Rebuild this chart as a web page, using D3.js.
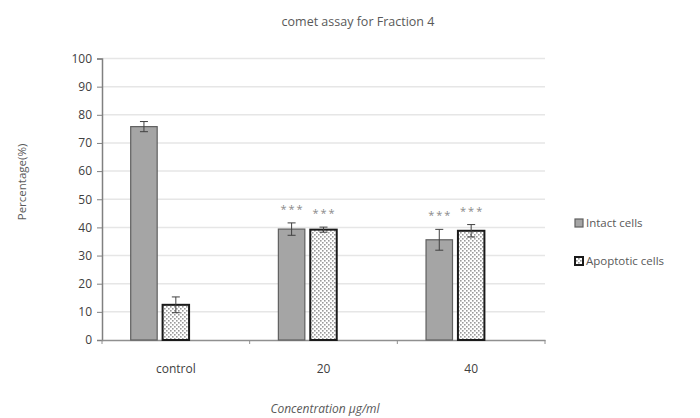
<!DOCTYPE html>
<html><head><meta charset="utf-8">
<script src="https://cdn.jsdelivr.net/npm/d3@7"></script>
<style>body{margin:0;background:#fff}svg{display:block}text{font-family:"Open Sans","Liberation Sans",sans-serif}</style>
</head><body><svg id="c" width="700" height="418"></svg>
<script>
const categories = ["control", "20", "40"];
const seriesNames = ["Intact cells", "Apoptotic cells"];
const intactValues = [75.8, 39.4, 35.6];
const intactErrors = [1.8, 2.2, 3.7];
const apoptoticValues = [12.5, 39.2, 38.8];
const apoptoticErrors = [2.8, 0.9, 2.2];
const intactMarks = ["", "***", "***"];
const apoptoticMarks = ["", "***", "***"];
const yTicks = [0,10,20,30,40,50,60,70,80,90,100];

const svg = d3.select("#c");
const m = {l:102, r:545, t:58.5, b:340};
const x = d3.scaleBand().domain(categories).range([m.l, m.r]);
const xs = d3.scaleBand().domain([...seriesNames, "_empty"]).range([0, x.bandwidth()]).paddingInner(0.17).paddingOuter(0.9);
const y = d3.scaleLinear().domain([0,100]).range([m.b, m.t]);

const defs = svg.append("defs");
const pat = defs.append("pattern").attr("id","dots").attr("patternUnits","userSpaceOnUse").attr("width",4).attr("height",4);
pat.append("rect").attr("width",4).attr("height",4).attr("fill","#fff");
pat.append("rect").attr("x",0).attr("y",0).attr("width",1.6).attr("height",1.6).attr("fill","#9a9a9a");
pat.append("rect").attr("x",2).attr("y",2).attr("width",1.6).attr("height",1.6).attr("fill","#9a9a9a");

// gridlines
svg.append("g").selectAll("line").data(yTicks.filter(d=>d>0)).join("line")
  .attr("x1",m.l).attr("x2",m.r).attr("y1",d=>y(d)).attr("y2",d=>y(d))
  .attr("stroke","#e6e6e6").attr("stroke-width",1.5);

// y axis
const ya = svg.append("g").attr("transform",`translate(${m.l},0)`)
  .call(d3.axisLeft(y).tickValues(yTicks).tickSize(5).tickPadding(5));
ya.selectAll("text").attr("fill","#404040").style("font-size","12px");
ya.selectAll("line").attr("stroke","#808080");
ya.select(".domain").attr("stroke","#808080").attr("stroke-width",1.5);

// x axis
const xa = svg.append("g").attr("transform",`translate(0,${m.b})`)
  .call(d3.axisBottom(x).tickSize(0).tickPadding(24));
xa.select(".domain").attr("stroke","#909090").attr("stroke-width",1.5);
xa.selectAll("text").attr("fill","#404040").style("font-size","12px");
svg.append("g").selectAll("line").data([m.l, ...categories.map(c=>x(c)+x.bandwidth())]).join("line")
  .attr("x1",d=>d).attr("x2",d=>d).attr("y1",m.b).attr("y2",m.b+4).attr("stroke","#909090");

const series = [
  {name: seriesNames[0], vals: intactValues, errs: intactErrors, marks: intactMarks, fill:"#a5a5a5", stroke:"#5f5f5f", sw:1.2},
  {name: seriesNames[1], vals: apoptoticValues, errs: apoptoticErrors, marks: apoptoticMarks, fill:"url(#dots)", stroke:"#1a1a1a", sw:2}
];
series.forEach(s=>{
  const g = svg.append("g");
  categories.forEach((c,i)=>{
    const bx = x(c)+xs(s.name), bw = xs.bandwidth(), v = s.vals[i], e = s.errs[i];
    g.append("rect").attr("x",bx).attr("y",y(v)).attr("width",bw).attr("height",y(0)-y(v))
      .attr("fill",s.fill).attr("stroke",s.stroke).attr("stroke-width",s.sw);
    const cx = bx+bw/2;
    g.append("line").attr("x1",cx).attr("x2",cx).attr("y1",y(v+e)).attr("y2",y(v-e)).attr("stroke","#404040");
    [v+e, v-e].forEach(t=>g.append("line").attr("x1",cx-4).attr("x2",cx+4).attr("y1",y(t)).attr("y2",y(t)).attr("stroke","#404040"));
    if (s.marks[i]) g.append("text").attr("x",cx+1).attr("y",y(v+e)-10).attr("text-anchor","middle")
      .attr("fill","#8a8a8a").style("font-size","11px").style("letter-spacing","2px").text(s.marks[i]);
  });
});

// title & axis titles
svg.append("text").attr("x",358).attr("y",26).attr("text-anchor","middle").attr("fill","#595959").style("font-size","12.5px").text("comet assay for Fraction 4");
svg.append("text").attr("transform","translate(26,182) rotate(-90)").attr("text-anchor","middle").attr("fill","#595959").style("font-size","11.5px").text("Percentage(%)");
svg.append("text").attr("x",325).attr("y",413).attr("text-anchor","middle").attr("fill","#595959").style("font-size","12px").style("font-style","italic").text("Concentration µg/ml");

// legend
const lg = svg.append("g");
series.forEach((s,i)=>{
  const ly = 223 + i*38;
  lg.append("rect").attr("x",575).attr("y",ly-4).attr("width",8).attr("height",8).attr("fill",s.fill).attr("stroke",s.stroke).attr("stroke-width",s.sw);
  lg.append("text").attr("x",586).attr("y",ly+4).attr("fill","#595959").style("font-size","11.5px").text(s.name);
});
</script></body></html>
